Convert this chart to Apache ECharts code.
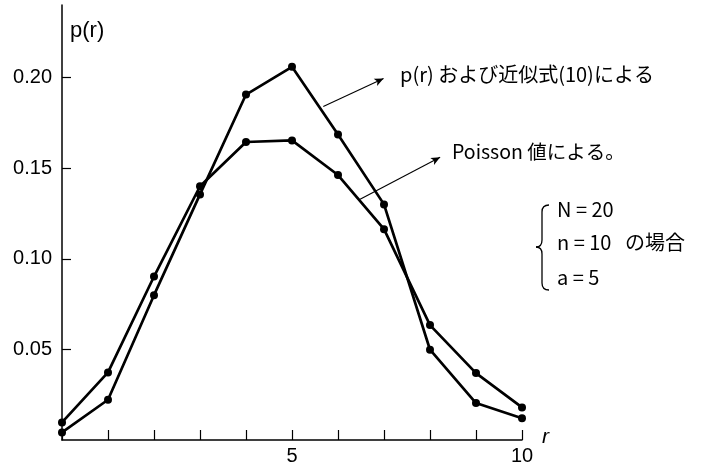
<!DOCTYPE html>
<html><head><meta charset="utf-8">
<script src="https://cdn.jsdelivr.net/npm/echarts@6/dist/echarts.min.js"></script>
<style>html,body{margin:0;padding:0;background:#fff}#c{width:701px;height:466px}</style>
</head><body><div id="c"></div>
<script>
var rValues = [0,1,2,3,4,5,6,7,8,9,10];
var pApprox = [0.0042,0.0222,0.0799,0.1355,0.1906,0.2059,0.1686,0.1300,0.0498,0.0204,0.0120];
var poisson = [0.0097,0.0373,0.0902,0.1400,0.1644,0.1653,0.1462,0.1163,0.0634,0.0369,0.0180];
var yTicks = [0.05,0.10,0.15,0.20];
var xLabels = [5,10];
var F = "'Liberation Sans','Noto Sans CJK JP',sans-serif";
var FJ = "'Noto Sans CJK JP','Liberation Sans',sans-serif";
function pairs(v){return rValues.map(function(r,i){return [r,v[i]];});}
var chart = echarts.init(document.getElementById('c'));
var lineCommon = {type:'line',symbol:'circle',symbolSize:8,color:'#000',
  lineStyle:{color:'#000',width:2.7},itemStyle:{color:'#000'},animation:false,z:3};
var braceStyle = {stroke:'#000',lineWidth:1.3,fill:null};
function arrowLine(a,b){
  return {silent:true,symbol:['none','arrow'],symbolSize:[6,9],
    lineStyle:{color:'#000',width:1.1,type:'solid'},itemStyle:{color:'#000'},label:{show:false},
    data:[[{coord:a},{coord:b}]]};
}
chart.setOption({
  backgroundColor:'#fff',
  animation:false,
  grid:{left:62,right:179,top:5,bottom:25},
  xAxis:{type:'value',min:0,max:10,interval:1,
    axisLine:{lineStyle:{color:'#000',width:1.5}},
    axisTick:{inside:true,length:10,lineStyle:{color:'#000',width:1.2}},
    axisLabel:{customValues:xLabels,color:'#000',fontSize:20,fontFamily:F,margin:6},
    splitLine:{show:false}},
  yAxis:{type:'value',min:0,max:0.24,
    axisLine:{show:true,lineStyle:{color:'#000',width:1.5}},
    axisTick:{show:true,inside:true,length:9,customValues:yTicks,lineStyle:{color:'#000',width:1.2}},
    axisLabel:{customValues:yTicks,color:'#000',fontSize:20,fontFamily:F,margin:10,
      formatter:function(v){return v.toFixed(2);}},
    splitLine:{show:false}},
  series:[
    Object.assign({name:'p(r)',data:pairs(pApprox),markLine:arrowLine([5.68,0.184],[6.99,0.1994])},lineCommon),
    Object.assign({name:'Poisson',data:pairs(poisson),markLine:arrowLine([6.48,0.1328],[8.22,0.156])},lineCommon)
  ],
  graphic:[
    {type:'text',left:70,top:20,style:{text:'p(r)',font:'22px '+F,fill:'#000'}},
    {type:'text',left:542,top:427,style:{text:'r',font:'italic 21px '+F,fill:'#000'}},
    {type:'text',left:400,top:64,style:{text:'p(r) および近似式(10)による',font:'20px '+FJ,fill:'#000'}},
    {type:'text',left:452,top:142,style:{text:'Poisson 値による。',font:'19.5px '+FJ,fill:'#000'}},
    {type:'bezierCurve',shape:{x1:549,y1:205,x2:542,y2:212,cpx1:542,cpy1:205},style:braceStyle},
    {type:'line',shape:{x1:542,y1:212,x2:542,y2:240},style:braceStyle},
    {type:'bezierCurve',shape:{x1:542,y1:240,x2:536,y2:247,cpx1:542,cpy1:247},style:braceStyle},
    {type:'bezierCurve',shape:{x1:536,y1:247,x2:542,y2:254,cpx1:542,cpy1:247},style:braceStyle},
    {type:'line',shape:{x1:542,y1:254,x2:542,y2:283},style:braceStyle},
    {type:'bezierCurve',shape:{x1:542,y1:283,x2:549,y2:290,cpx1:542,cpy1:290},style:braceStyle},
    {type:'text',left:557,top:199,style:{text:'N = 20',font:'20px '+FJ,fill:'#000'}},
    {type:'text',left:557,top:232,style:{text:'n = 10   の場合',font:'20px '+FJ,fill:'#000'}},
    {type:'text',left:557,top:267,style:{text:'a = 5',font:'20px '+FJ,fill:'#000'}}
  ]
});
</script></body></html>
